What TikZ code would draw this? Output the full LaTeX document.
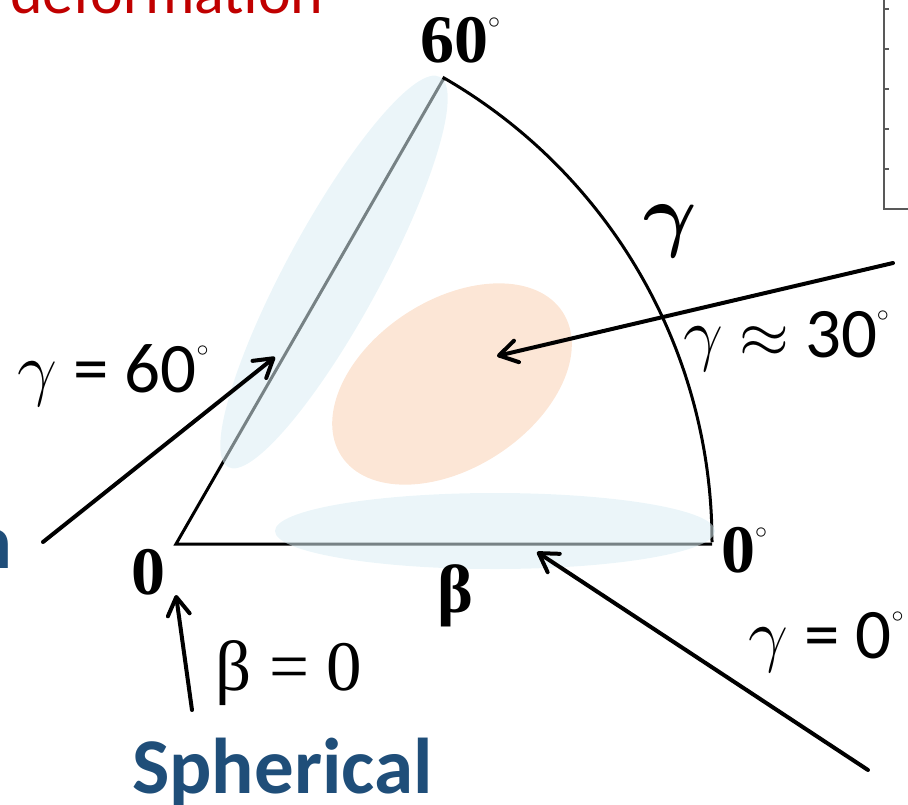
\RequirePackage{fix-cm}
\documentclass[tikz,border=0pt]{standalone}
\usepackage{fontspec}
\usepackage{bm}
\setmainfont{Carlito}
\newfontfamily\serifgr{Liberation Serif}
\usetikzlibrary{arrows.meta}
\definecolor{Deep}{HTML}{1F4E79}
\definecolor{Crimson}{HTML}{C00000}
\definecolor{Haze}{HTML}{DAEDF4}
\definecolor{Peach}{HTML}{FCE6D6}
\definecolor{Axis}{HTML}{595959}
\newcommand\degmark{\raisebox{0.5em}{\fontsize{24}{24}\selectfont$\circ$}}

\begin{document}
\begin{tikzpicture}[x=1pt,y=-1pt,
    lbl/.style={anchor=base west,inner sep=0pt,font=\fontsize{71}{71}\selectfont},
    corner/.style={anchor=base west,inner sep=0pt,font=\serifgr\bfseries\fontsize{68}{68}\selectfont},
    pointer/.style={line width=4pt,line cap=round,-{Straight Barb[length=18pt,width=22pt,round]}}]
  \clip (0,0) rectangle (908,804);
  \coordinate (O) at (176,544);
  \coordinate (T) at (444,78);
  \coordinate (R) at (712,544);
  \fill[Peach,rotate around={33:(452,384)}] (452,384) ellipse[x radius=132,y radius=84];
  \draw[line width=3pt] (R) -- (O) -- (T) arc[start angle=-60,end angle=0,radius=536];
  \fill[Haze,opacity=.55,rotate around={61.5:(334,272)}] (334,272) ellipse[x radius=222,y radius=47];
  \fill[Haze,opacity=.55] (495,531) ellipse[x radius=220,y radius=38];
  \draw[Axis,line width=1.2pt] (884,-2) -- (884,209) -- (912,209);
  \foreach \y in {9,49,89,129,169}{
    \draw[Axis,line width=1.2pt] (884,\y) -- (889,\y);
  }
  \node[anchor=base west,inner sep=0pt,font=\fontsize{62}{62}\selectfont,text=Crimson] (def) at (10,13) {deformation};
  \node[corner] (top) at (420,62) {60\degmark};
  \node[corner] (zero) at (131,594) {0};
  \node[corner] (zerodeg) at (721,572) {0\degmark};
  \node[corner] (beta) at (437,612) {β};
  \node[corner,font=\fontsize{82}{82}\selectfont] (gamma) at (643,241) {$\bm{\gamma}$};
  \node[lbl] (g60) at (17,392) {$\gamma$ = 60\degmark};
  \node[lbl] (g30) at (683,357) {$\gamma$ {\fontsize{64}{64}\selectfont$\approx$} 30\degmark};
  \node[lbl] (g0) at (748,658) {$\gamma$ = 0\degmark};
  \node[lbl,font=\serifgr\fontsize{71}{71}\selectfont] (b0) at (215,690) {β = 0};
  \node[anchor=base west,inner sep=0pt,font=\bfseries\fontsize{79}{79}\selectfont,text=Deep] (sph) at (132,793) {Spherical};
  \node[anchor=base east,inner sep=0pt,font=\bfseries\fontsize{78}{78}\selectfont,text=Deep] (cut) at (13,568) {n};
  \coordinate (p60) at (43,542);
  \coordinate (q60) at (275,357);
  \coordinate (p30) at (893,263);
  \coordinate (q30) at (497,356);
  \coordinate (p0) at (868,770);
  \coordinate (q0) at (537,552);
  \coordinate (pb) at (192,710);
  \coordinate (qb) at (176,595);
  \draw[pointer] (p60) -- (q60);
  \draw[pointer] (p30) -- (q30);
  \draw[pointer] (p0) -- (q0);
  \draw[pointer] (pb) -- (qb);
\end{tikzpicture}
\end{document}
